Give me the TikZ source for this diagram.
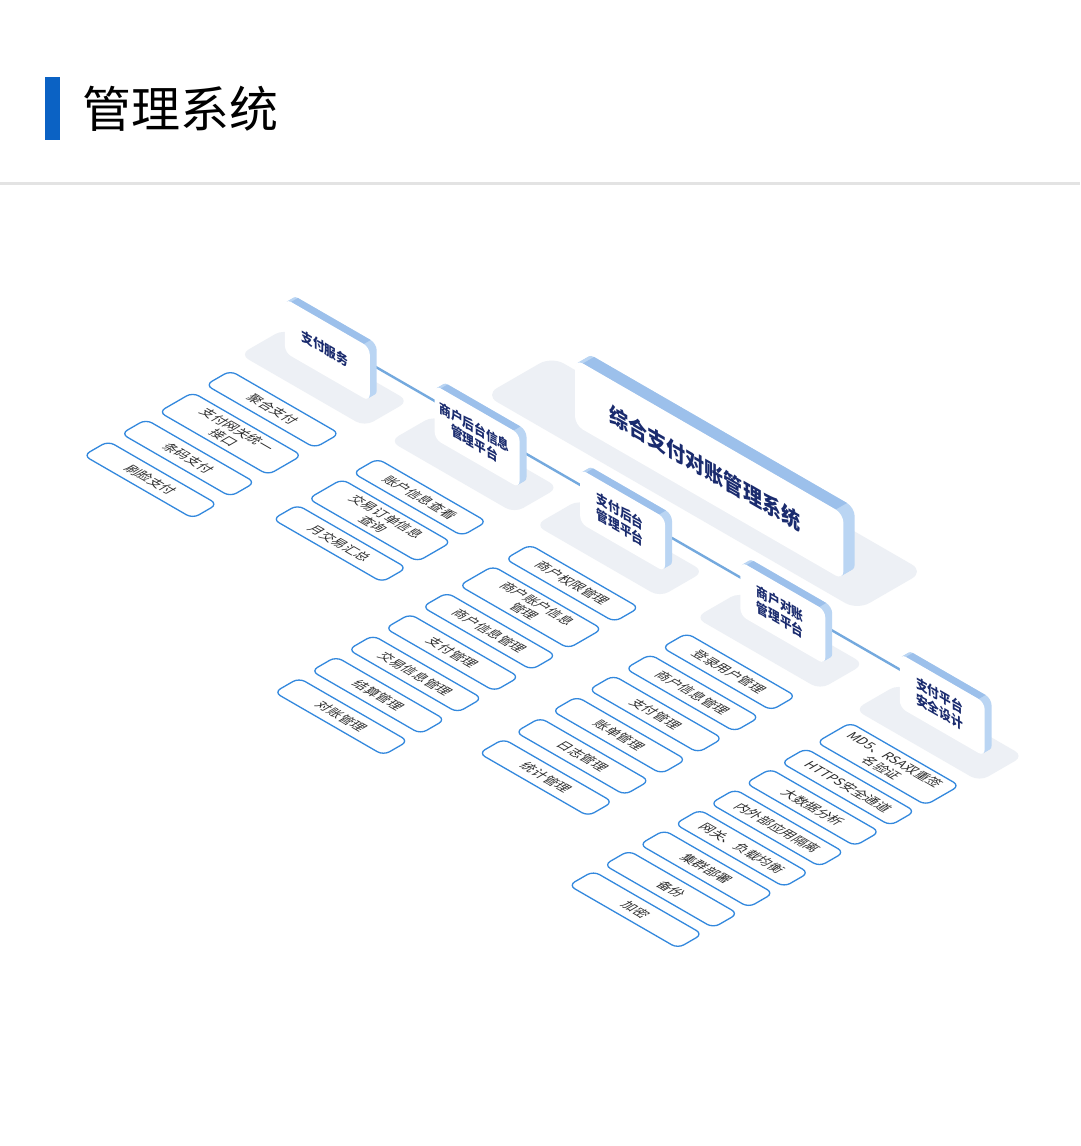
\documentclass[tikz,border=0pt]{standalone}
\usepackage{fontspec}
\newfontfamily\cjk{Noto Sans CJK SC}
\definecolor{tileblue}{HTML}{3388DD}
\definecolor{navy}{HTML}{1A2B6E}
\definecolor{topblue}{HTML}{9CC0EB}
\definecolor{sideblue}{HTML}{BAD5F3}
\definecolor{platgray}{HTML}{EDF0F5}
\definecolor{linkblue}{HTML}{74A9DE}
\definecolor{txt}{HTML}{2B2B2B}
\definecolor{barblue}{HTML}{0B62C4}
\definecolor{sepgray}{HTML}{E3E3E3}
\newcommand\boardbody[4]{%
  \foreach \s in {1,...,#3} {\fill[sideblue, rounded corners=#4pt] (\s,\s) rectangle ++(#1,#2);}
  \fill[topblue] (#4,#2) -- (#1-#4,#2) -- (#1-#4+#3,#2+#3) -- (#4+#3,#2+#3) -- cycle;
  \fill[white, rounded corners=#4pt] (0,0) rectangle (#1,#2);
}
\begin{document}
\begin{tikzpicture}[x=1pt,y=1pt,
  tile/.style={draw=tileblue, line width=1.3pt, fill=white, rounded corners=7pt, minimum width=126pt, minimum height=28.5pt, inner sep=0pt, align=center, font=\cjk\fontsize{13.2}{15.5}\selectfont, text=txt, transform shape, anchor=north west},
  tiletwo/.style={tile, minimum height=39pt},
  platf/.style={fill=platgray, rounded corners=10pt},
  link/.style={draw=linkblue, line width=2.4pt},
  btext/.style={font=\cjk\bfseries\fontsize{13.5}{16}\selectfont, text=navy, align=center, transform shape, inner sep=0pt},
  bigtext/.style={btext, font=\cjk\bfseries\fontsize{22}{26}\selectfont},
]
\useasboundingbox (0,0) rectangle (1080,-1146);
\fill[white] (0,0) rectangle (1080,-1146);
% header
\fill[barblue] (45,-77) rectangle (60,-140);
\node[anchor=west, inner sep=0pt, font=\cjk\fontsize{49}{49}\selectfont] (title) at (82,-108.5) {管理系统};
\fill[sepgray] (0,-182) rectangle (1080,-184.5);

% floor: platforms and link coordinates
\begin{scope}[cm={0.866,-0.5,0.866,0.5,(0,0)}]
  \fill[platf, rounded corners=14pt] (675,-115) rectangle (1105,-38);
  \foreach \xo in {517,690,858,1043,1227} {\fill[platf] (\xo-24,-216) rectangle (\xo+120,-165);}
  \coordinate (k1) at (566,-150);
  \coordinate (k2) at (739,-150);
  \coordinate (k3) at (907,-150);
  \coordinate (k4) at (1092,-150);
  \coordinate (k5) at (1276,-150);
\end{scope}

% main board
\begin{scope}[cm={0.866,-0.5,0,1,(575,-425)}]
  \boardbody{310}{66}{13}{9}
  \node[bigtext] (main) at (150,32) {综合支付对账管理系统};
\end{scope}

% links
\draw[link] (k1) -- (k2);
\draw[link] (k2) -- (k3);
\draw[link] (k3) -- (k4);
\draw[link] (k4) -- (k5);

% small boards
\begin{scope}[cm={0.866,-0.5,0,1,(284.9,-352.5)}]
  \boardbody{98}{54}{8}{7}
  \node[btext] (s1) at (46,27) {支付服务};
\end{scope}
\begin{scope}[cm={0.866,-0.5,0,1,(434.7,-439)}]
  \boardbody{98}{54}{8}{7}
  \node[btext] (s2) at (46,27) {商户后台信息\\管理平台};
\end{scope}
\begin{scope}[cm={0.866,-0.5,0,1,(580.2,-523)}]
  \boardbody{98}{54}{8}{7}
  \node[btext] (s3) at (46,27) {支付后台\\管理平台};
\end{scope}
\begin{scope}[cm={0.866,-0.5,0,1,(740.4,-615.5)}]
  \boardbody{98}{54}{8}{7}
  \node[btext] (s4) at (46,27) {商户对账\\管理平台};
\end{scope}
\begin{scope}[cm={0.866,-0.5,0,1,(899.8,-707.5)}]
  \boardbody{98}{54}{8}{7}
  \node[btext] (s5) at (46,27) {支付平台\\安全设计};
\end{scope}

% tiles on the floor
\begin{scope}[cm={0.866,-0.5,0.866,0.5,(0,0)}]
  % column 1
  \node[tile] (a1) at (503,-237) {聚合支付};
  \node[tiletwo] (a2) at (503,-280.5) {支付网关统一\\接口};
  \node[tile] (a3) at (503,-334.5) {条码支付};
  \node[tile] (a4) at (503,-378) {刷脸支付};
  % column 2
  \node[tile] (b1) at (676,-240) {账户信息查看};
  \node[tiletwo] (b2) at (676,-281) {交易订单信息\\查询};
  \node[tile] (b3) at (676,-332.5) {月交易汇总};
  % column 3
  \node[tile] (c1) at (850,-238) {商户权限管理};
  \node[tiletwo] (c2) at (850,-280.7) {商户账户信息\\管理};
  \node[tile] (c3) at (850,-333.9) {商户信息管理};
  \node[tile] (c4) at (850,-376.6) {支付管理};
  \node[tile] (c5) at (850,-419.3) {交易信息管理};
  \node[tile] (c6) at (850,-462) {结算管理};
  \node[tile] (c7) at (850,-504.7) {对账管理};
  % column 4
  \node[tile] (d1) at (1029,-236) {登录用户管理};
  \node[tile] (d2) at (1029,-278.3) {商户信息管理};
  \node[tile] (d3) at (1029,-320.6) {支付管理};
  \node[tile] (d4) at (1029,-362.9) {账单管理};
  \node[tile] (d5) at (1029,-405.2) {日志管理};
  \node[tile] (d6) at (1029,-447.5) {统计管理};
  % column 5
  \node[tiletwo] (e1) at (1213,-231) {MD5、RSA双重签\\名验证};
  \node[tile] (e2) at (1213,-282.4) {HTTPS安全通道};
  \node[tile] (e3) at (1213,-323.3) {大数据分析};
  \node[tile] (e4) at (1213,-364.2) {内外部应用隔离};
  \node[tile] (e5) at (1213,-405.1) {网关、负载均衡};
  \node[tile] (e6) at (1213,-446) {集群部署};
  \node[tile] (e7) at (1213,-486.9) {备份};
  \node[tile] (e8) at (1213,-527.8) {加密};
\end{scope}
\end{tikzpicture}
\end{document}
